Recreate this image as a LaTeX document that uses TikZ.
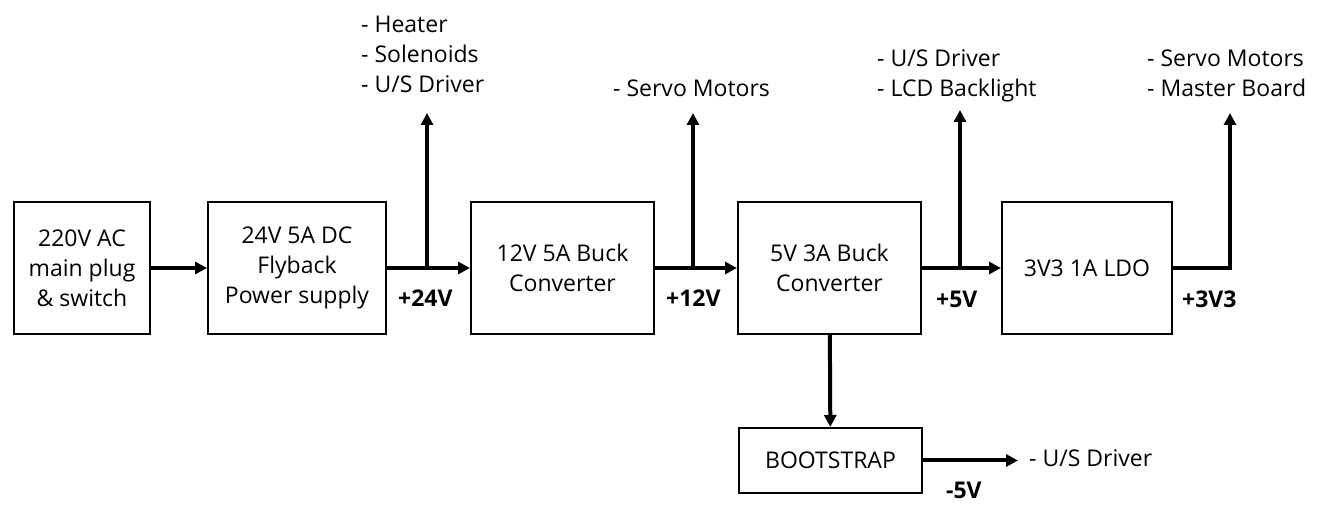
\documentclass[tikz,border=0pt]{standalone}
\usepackage{fontspec}
\setmainfont{Open Sans}
\usetikzlibrary{arrows.meta}
\begin{document}
\begin{tikzpicture}[x=1pt,y=1pt]
    \tikzstyle{every node}+=[inner sep=0pt, font=\fontsize{23}{30}\selectfont]
    \tikzstyle{block}=[draw=black, line width=2pt, minimum height=132pt, align=center]
    \tikzstyle{wire}=[black, line width=4pt]
    \tikzstyle{feed}=[wire, -{Triangle[length=12pt,width=12pt]}]
    \tikzstyle{rail}=[anchor=base west, font=\fontsize{23}{30}\selectfont\bfseries]
    \tikzstyle{load}=[anchor=base west, align=left]
    \useasboundingbox (0,0) rectangle (1326,-518);
    \node [block, minimum width=136pt] (plug) at (82,-268) {220V AC\\main plug\\\& switch};
    \node [block, minimum width=178pt] (fly) at (297,-268) {24V 5A DC\\Flyback\\Power supply};
    \node [block, minimum width=183pt] (bucka) at (562.5,-268) {12V 5A Buck\\Converter};
    \node [block, minimum width=183pt] (buckb) at (829.5,-268) {5V 3A Buck\\Converter};
    \node [block, minimum width=170pt] (ldo) at (1087,-268) {3V3 1A LDO};
    \node [block, minimum width=183pt, minimum height=65pt] (boot) at (830.5,-460.5) {BOOTSTRAP};
    \node [rail] (v24) at (398,-307) {+24V};
    \node [rail] (v12) at (666,-307) {+12V};
    \node [rail] (v5) at (936,-308) {+5V};
    \node [rail] (v33) at (1182,-308) {+3V3};
    \node [rail] (vn5) at (946,-499) {-5V};
    \node [load] (l24) at (361,-93) {- Heater\\- Solenoids\\- U/S Driver};
    \node [load] (l12) at (613,-97) {- Servo Motors};
    \node [load] (l5) at (877,-97) {- U/S Driver\\- LCD Backlight};
    \node [load] (l33) at (1147,-97) {- Servo Motors\\- Master Board};
    \node [load] (ln5) at (1029,-467) {- U/S Driver};
    \coordinate (j24) at (427,-268);
    \coordinate (t24) at (427,-113);
    \coordinate (j12) at (693,-268);
    \coordinate (t12) at (693,-113);
    \coordinate (j5) at (960,-268);
    \coordinate (t5) at (960,-110);
    \coordinate (j33) at (1230,-268);
    \coordinate (t33) at (1230,-113);
    \coordinate (tn5) at (1018,-460.5);
    \draw [feed] (plug) -- (fly);
    \draw [feed] (fly) -- (bucka);
    \draw [feed] (j24) -- (t24);
    \draw [feed] (bucka) -- (buckb);
    \draw [feed] (j12) -- (t12);
    \draw [feed] (buckb) -- (ldo);
    \draw [feed] (j5) -- (t5);
    \draw [feed] (ldo.east) -- (j33) -- (t33);
    \draw [feed] (buckb) -- (boot);
    \draw [feed] (boot) -- (tn5);
\end{tikzpicture}
\end{document}
